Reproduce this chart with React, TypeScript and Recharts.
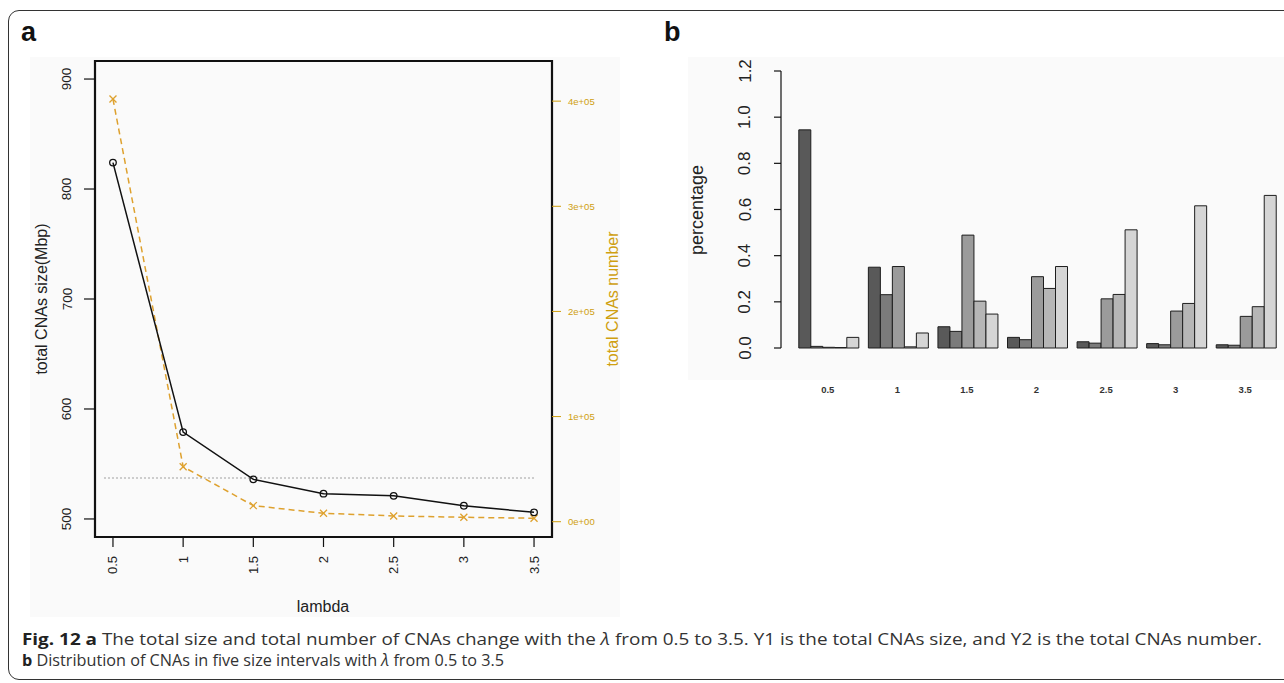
import React from 'react';
import { LineChart, Line, BarChart, Bar, XAxis, YAxis, ReferenceArea, ReferenceLine } from 'recharts';

// panel a
const lambdas = [0.5, 1, 1.5, 2, 2.5, 3, 3.5];
const totalSizeMbp = [824, 579, 536, 523, 521, 512, 506];
const totalCnaNumber = [402000, 52300, 15300, 8000, 5500, 4200, 3300];
const sizeTicks = [500, 600, 700, 800, 900];
const numberTicks = [0, 100000, 200000, 300000, 400000];
const guideLevel = 537.2;

// panel b: share of CNAs in five size intervals
const interval1 = [0.945, 0.35, 0.092, 0.046, 0.027, 0.019, 0.014];
const interval2 = [0.007, 0.231, 0.072, 0.036, 0.021, 0.014, 0.012];
const interval3 = [0.003, 0.353, 0.489, 0.309, 0.213, 0.16, 0.137];
const interval4 = [0.002, 0.005, 0.203, 0.258, 0.232, 0.193, 0.179];
const interval5 = [0.046, 0.065, 0.147, 0.353, 0.512, 0.616, 0.661];
const percentTicks = [0, 0.2, 0.4, 0.6, 0.8, 1.0, 1.2];

const lambdaDomain = [0.372, 3.628];
const sizeDomain = [483.6, 916.4];
const numberDomain = [-14540, 438180];

const GOLD = '#cf9f10';
const LINE_ORANGE = '#dea12e';
const FONT = '"Liberation Sans", Arial, Helvetica, sans-serif';
const CAPTION_FONT = '"Open Sans", "Noto Sans", sans-serif';

const lineRows = lambdas.map((l, i) => ({ lambda: l, size: totalSizeMbp[i], count: totalCnaNumber[i] }));

const intervals = [
  { key: 'i1', values: interval1, color: '#595959' },
  { key: 'i2', values: interval2, color: '#7b7b7b' },
  { key: 'i3', values: interval3, color: '#9b9b9b' },
  { key: 'i4', values: interval4, color: '#b6b6b6' },
  { key: 'i5', values: interval5, color: '#d5d5d5' },
];

const barRows = lambdas.map((l, i) => {
  const row: any = { lambda: String(l) };
  intervals.forEach((s) => { row[s.key] = s.values[i]; });
  return row;
});

const fmtNumber = (v: number) => (v === 0 ? '0e+00' : `${v / 100000}e+05`);

const CircleDot = (p: any) => (
  <circle key={`c-${p.index}`} cx={p.cx} cy={p.cy} r={3.3} fill="none" stroke="#111" strokeWidth={1.3} />
);

const CrossDot = (p: any) => (
  <g key={`x-${p.index}`} stroke={LINE_ORANGE} strokeWidth={1.3}>
    <line x1={p.cx - 3.5} y1={p.cy - 3.5} x2={p.cx + 3.5} y2={p.cy + 3.5} />
    <line x1={p.cx - 3.5} y1={p.cy + 3.5} x2={p.cx + 3.5} y2={p.cy - 3.5} />
  </g>
);

const TotalsChart = () => (
  <LineChart width={660} height={625} data={lineRows} margin={{ top: 61, right: 48, bottom: 48, left: 35 }}>
    <XAxis
      type="number"
      dataKey="lambda"
      xAxisId="l"
      domain={lambdaDomain}
      ticks={lambdas}
      allowDataOverflow
      interval={0}
      height={40}
      axisLine={false}
      tickLine={{ stroke: '#111', strokeWidth: 1.2 }}
      tickSize={10}
      tick={(p: any) => (
        <text x={p.x} y={556} transform={`rotate(-90 ${p.x} 556)`} textAnchor="end" dominantBaseline="central"
          fontSize={13} fontFamily={FONT} fill="#222">{p.payload.value}</text>
      )}
      label={() => (
        <text x={323} y={612} textAnchor="middle" fontSize={16} fontFamily={FONT} fill="#222">lambda</text>
      )}
    />
    <YAxis
      yAxisId="size"
      type="number"
      domain={sizeDomain}
      ticks={sizeTicks}
      allowDataOverflow
      width={60}
      axisLine={false}
      tickLine={{ stroke: '#111', strokeWidth: 1.2 }}
      tickSize={11}
      tick={(p: any) => (
        <text x={67} y={p.y} transform={`rotate(-90 67 ${p.y})`} textAnchor="middle" dominantBaseline="central"
          fontSize={13.5} fontFamily={FONT} fill="#222">{p.payload.value}</text>
      )}
      label={() => (
        <text x={41} y={299} transform="rotate(-90 41 299)" textAnchor="middle" dominantBaseline="central"
          fontSize={16} fontFamily={FONT} fill="#222">total CNAs size(Mbp)</text>
      )}
    />
    <YAxis
      yAxisId="count"
      orientation="right"
      type="number"
      domain={numberDomain}
      ticks={numberTicks}
      allowDataOverflow
      width={60}
      axisLine={false}
      tickLine={{ stroke: GOLD, strokeWidth: 1 }}
      tickSize={9}
      tick={(p: any) => (
        <text x={568} y={p.y} dominantBaseline="central" fontSize={9.5} fontFamily={FONT} fill={GOLD}>
          {fmtNumber(p.payload.value)}
        </text>
      )}
      label={() => (
        <text x={612} y={299} transform="rotate(-90 612 299)" textAnchor="middle" dominantBaseline="central"
          fontSize={16} fontFamily={FONT} fill={GOLD}>total CNAs number</text>
      )}
    />
    <ReferenceLine
      xAxisId="l"
      yAxisId="size"
      segment={[{ x: 0.436, y: guideLevel }, { x: 3.5, y: guideLevel }]}
      stroke="#cdcdcd"
      strokeWidth={2}
      strokeDasharray="2 2"
      ifOverflow="visible"
    />
    <Line xAxisId="l" yAxisId="count" dataKey="count" stroke={LINE_ORANGE} strokeWidth={1.5} strokeDasharray="6 4"
      dot={CrossDot} activeDot={false} isAnimationActive={false} />
    <Line xAxisId="l" yAxisId="size" dataKey="size" stroke="#111" strokeWidth={1.5}
      dot={CircleDot} activeDot={false} isAnimationActive={false} />
    <ReferenceArea xAxisId="l" yAxisId="size" x1={lambdaDomain[0]} x2={lambdaDomain[1]} y1={sizeDomain[0]} y2={sizeDomain[1]}
      fill="none" stroke="#111" strokeWidth={2.2} ifOverflow="visible" />
  </LineChart>
);

const DistributionChart = () => (
  <BarChart width={644} height={400} data={barRows} margin={{ top: 71, right: 4, bottom: 12, left: 81 }}
    barCategoryGap="8.333%" barGap={0}>
    <XAxis
      dataKey="lambda"
      padding={{ left: 12, right: 0 }}
      axisLine={false}
      tickLine={false}
      interval={0}
      height={40}
      tick={(p: any) => (
        <text x={p.x} y={389} textAnchor="middle" dominantBaseline="central" fontSize={9.5} fontWeight={600}
          fontFamily={FONT} fill="#333">{p.payload.value}</text>
      )}
    />
    <YAxis
      type="number"
      domain={[0, 1.2]}
      ticks={percentTicks}
      width={60}
      axisLine={{ stroke: '#111', strokeWidth: 1.2 }}
      tickLine={{ stroke: '#111', strokeWidth: 1.2 }}
      tickSize={7}
      tick={(p: any) => (
        <text x={105} y={p.y} transform={`rotate(-90 105 ${p.y})`} textAnchor="middle" dominantBaseline="central"
          fontSize={17} fontFamily={FONT} fill="#222">{Number(p.payload.value).toFixed(1)}</text>
      )}
      label={() => (
        <text x={57} y={210} transform="rotate(-90 57 210)" textAnchor="middle" dominantBaseline="central"
          fontSize={18} fontFamily={FONT} fill="#222">percentage</text>
      )}
    />
    {intervals.map((s) => (
      <Bar key={s.key} dataKey={s.key} fill={s.color} stroke="#1e1e1e" strokeWidth={1} isAnimationActive={false} />
    ))}
  </BarChart>
);

export default function App() {
  return (
    <div style={{ position: 'absolute', left: 0, top: 0, width: 1284, height: 683, background: '#fff', overflow: 'hidden', fontFamily: FONT }}>
      <div style={{ position: 'absolute', left: 8, top: 10, width: 1300, height: 668, border: '1.5px solid #333', borderRadius: 11 }} />
      <div style={{ position: 'absolute', left: 30, top: 57, width: 590, height: 560, background: '#fafafa' }} />
      <div style={{ position: 'absolute', left: 688, top: 57, width: 600, height: 323, background: '#fafafa' }} />
      <div style={{ position: 'absolute', left: 21, top: 17, fontSize: 27, fontWeight: 'bold', color: '#111' }}>a</div>
      <div style={{ position: 'absolute', left: 664, top: 17, fontSize: 27, fontWeight: 'bold', color: '#111' }}>b</div>
      <div style={{ position: 'absolute', left: 0, top: 0 }}>
        <TotalsChart />
      </div>
      <div style={{ position: 'absolute', left: 640, top: 0 }}>
        <DistributionChart />
      </div>
      <svg style={{ position: 'absolute', left: 0, top: 620 }} width={1284} height={63}>
        <text x={22} y={25} fontSize={16} fontFamily={CAPTION_FONT} fill="#333"
          textLength={1240} lengthAdjust="spacingAndGlyphs">
          <tspan fontWeight="bold" fill="#222">Fig. 12 a</tspan>
          <tspan> The total size and total number of CNAs change with the </tspan>
          <tspan fontStyle="italic">λ</tspan>
          <tspan> from 0.5 to 3.5. Y1 is the total CNAs size, and Y2 is the total CNAs number.</tspan>
        </text>
        <text x={22} y={46} fontSize={16} fontFamily={CAPTION_FONT} fill="#333"
          textLength={482} lengthAdjust="spacingAndGlyphs">
          <tspan fontWeight="bold" fill="#222">b</tspan>
          <tspan> Distribution of CNAs in five size intervals with </tspan>
          <tspan fontStyle="italic">λ</tspan>
          <tspan> from 0.5 to 3.5</tspan>
        </text>
      </svg>
    </div>
  );
}
